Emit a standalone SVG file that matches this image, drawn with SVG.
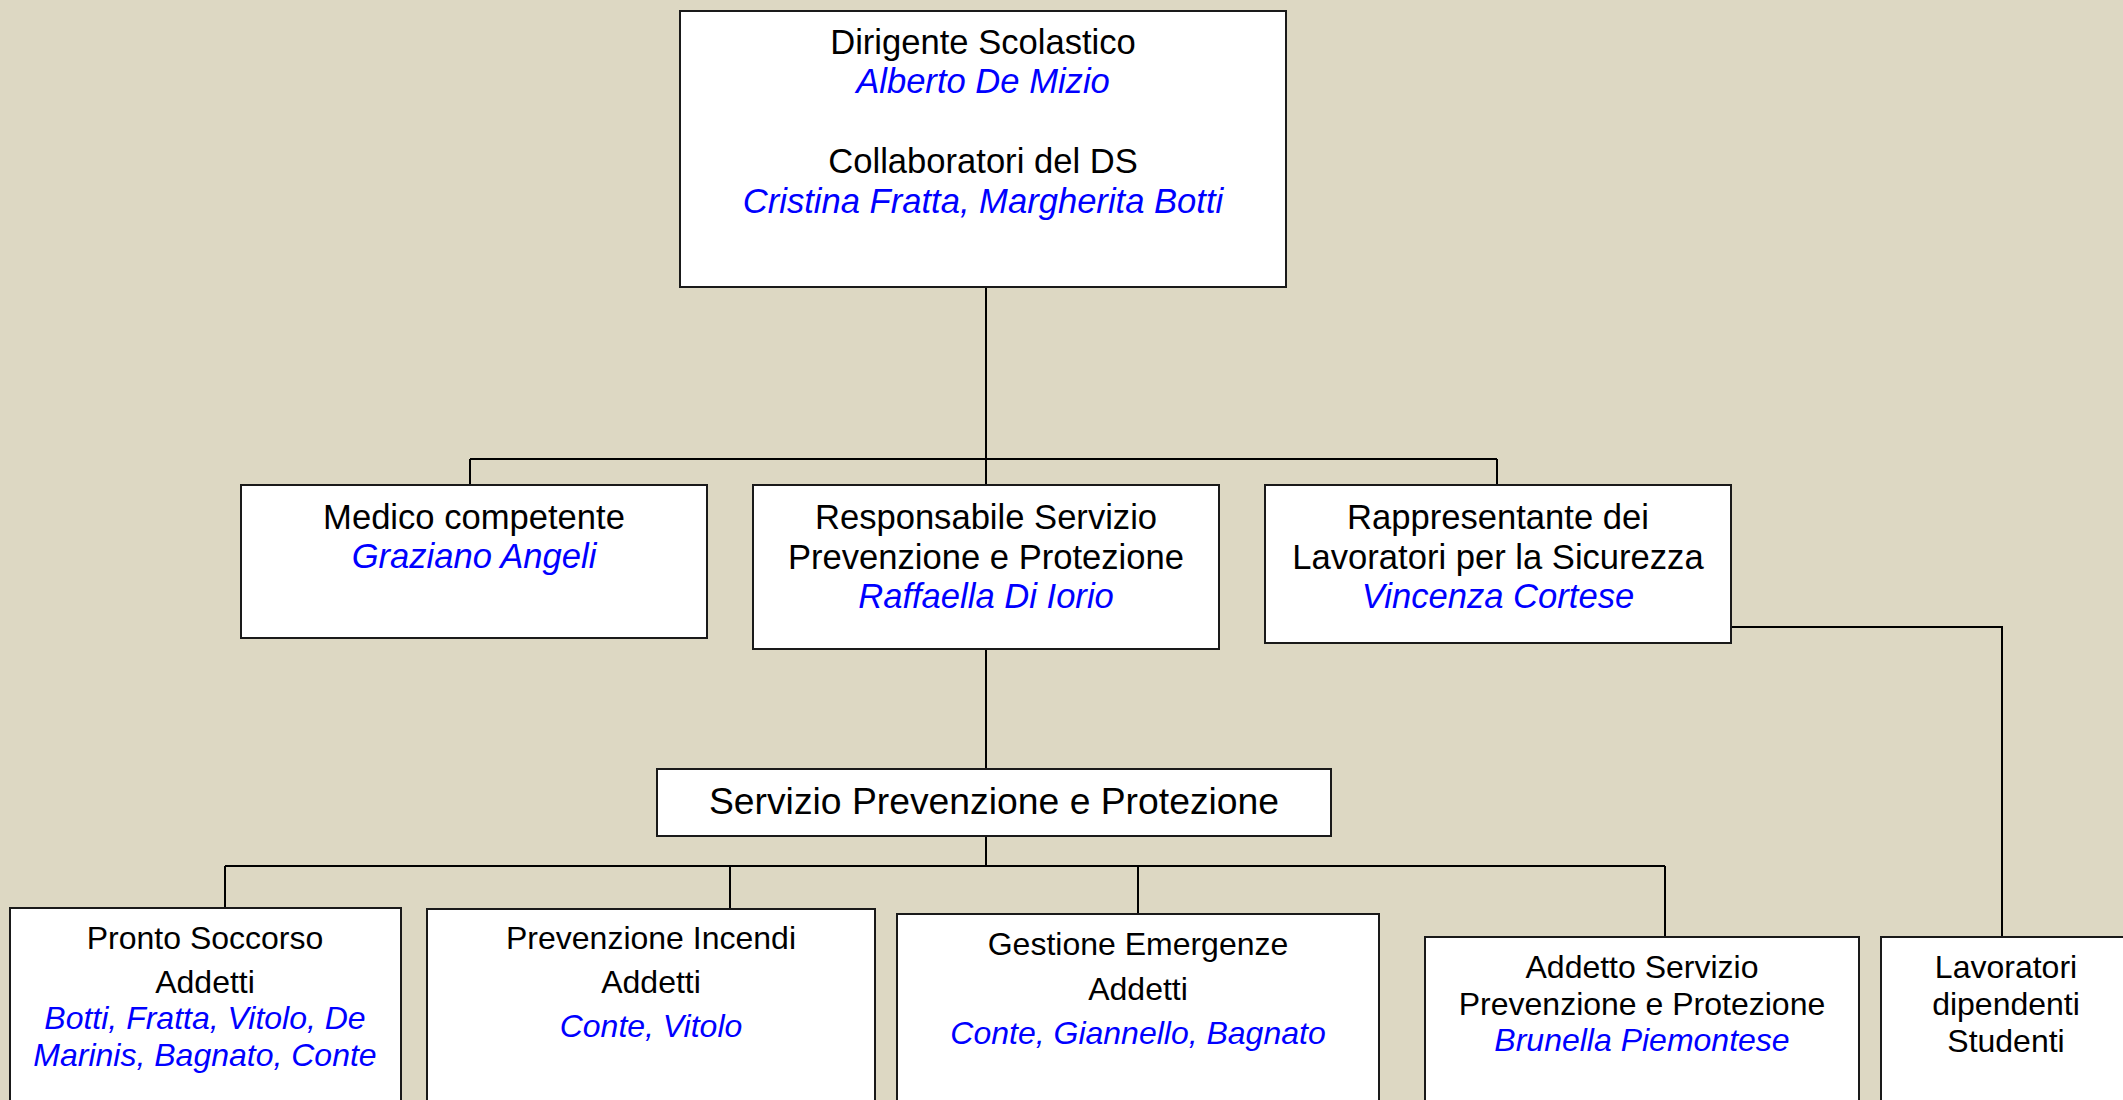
<svg xmlns="http://www.w3.org/2000/svg" width="2123" height="1100" viewBox="0 0 2123 1100">
<style>
.bg{fill:#DDD8C3}
.box{fill:#FFFFFF;stroke:#1a1a1a;stroke-width:2}
.ln{fill:none;stroke:#000000;stroke-width:2}
text{font-family:"Liberation Sans",Arial,sans-serif;text-anchor:middle;fill:#000000}
.m{font-size:34.6px}
.b{font-size:32px}
.t{font-size:37.3px}
.n{fill:#0000FF;font-style:italic}
</style>
<rect class="bg" x="0" y="0" width="2123" height="1100"/>
<g id="connectors">
<path class="ln" d="M986 287 V459"/>
<path class="ln" d="M470 459 H1497"/>
<path class="ln" d="M470 459 V485"/>
<path class="ln" d="M986 459 V485"/>
<path class="ln" d="M1497 459 V485"/>
<path class="ln" d="M986 649 V769"/>
<path class="ln" d="M986 836 V866"/>
<path class="ln" d="M225 866 H1665"/>
<path class="ln" d="M225 866 V908"/>
<path class="ln" d="M730 866 V909"/>
<path class="ln" d="M1138 866 V914"/>
<path class="ln" d="M1665 866 V937"/>
<path class="ln" d="M1731 627 H2002 V937"/>
</g>
<g id="dirigente">
<rect class="box" x="680" y="11" width="606" height="276"/>
<text class="m" x="983" y="54">Dirigente Scolastico</text>
<text class="m n" x="983" y="93">Alberto De Mizio</text>
<text class="m" x="983" y="173">Collaboratori del DS</text>
<text class="m n" x="983" y="213">Cristina Fratta, Margherita Botti</text>
</g>
<g id="medico">
<rect class="box" x="241" y="485" width="466" height="153"/>
<text class="m" x="474" y="529">Medico competente</text>
<text class="m n" x="474" y="568">Graziano Angeli</text>
</g>
<g id="rspp">
<rect class="box" x="753" y="485" width="466" height="164"/>
<text class="m" x="986" y="529">Responsabile Servizio</text>
<text class="m" x="986" y="569">Prevenzione e Protezione</text>
<text class="m n" x="986" y="608">Raffaella Di Iorio</text>
</g>
<g id="rls">
<rect class="box" x="1265" y="485" width="466" height="158"/>
<text class="m" x="1498" y="529">Rappresentante dei</text>
<text class="m" x="1498" y="569">Lavoratori per la Sicurezza</text>
<text class="m n" x="1498" y="608">Vincenza Cortese</text>
</g>
<g id="spp">
<rect class="box" x="657" y="769" width="674" height="67"/>
<text class="t" x="994" y="814">Servizio Prevenzione e Protezione</text>
</g>
<g id="pronto">
<rect class="box" x="10" y="908" width="391" height="210"/>
<text class="b" x="205" y="949">Pronto Soccorso</text>
<text class="b" x="205" y="993">Addetti</text>
<text class="b n" x="205" y="1029">Botti, Fratta, Vitolo, De</text>
<text class="b n" x="205" y="1066">Marinis, Bagnato, Conte</text>
</g>
<g id="incendi">
<rect class="box" x="427" y="909" width="448" height="210"/>
<text class="b" x="651" y="949">Prevenzione Incendi</text>
<text class="b" x="651" y="993">Addetti</text>
<text class="b n" x="651" y="1037">Conte, Vitolo</text>
</g>
<g id="emergenze">
<rect class="box" x="897" y="914" width="482" height="210"/>
<text class="b" x="1138" y="955">Gestione Emergenze</text>
<text class="b" x="1138" y="1000">Addetti</text>
<text class="b n" x="1138" y="1044">Conte, Giannello, Bagnato</text>
</g>
<g id="addetto">
<rect class="box" x="1425" y="937" width="434" height="210"/>
<text class="b" x="1642" y="978">Addetto Servizio</text>
<text class="b" x="1642" y="1015">Prevenzione e Protezione</text>
<text class="b n" x="1642" y="1051">Brunella Piemontese</text>
</g>
<g id="lavoratori">
<rect class="box" x="1881" y="937" width="250" height="210"/>
<text class="b" x="2006" y="978">Lavoratori</text>
<text class="b" x="2006" y="1015">dipendenti</text>
<text class="b" x="2006" y="1052">Studenti</text>
</g>
</svg>
